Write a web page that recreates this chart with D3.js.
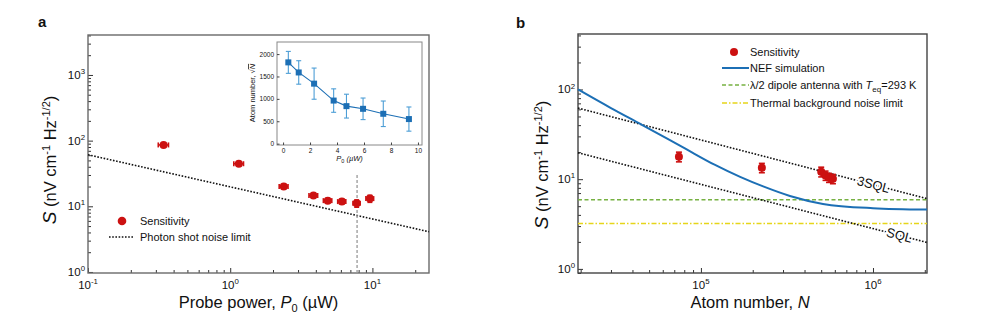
<!DOCTYPE html>
<html><head><meta charset="utf-8">
<script src="https://cdn.jsdelivr.net/npm/d3@7"></script>
<style>body{margin:0;background:#fff} svg text{font-family:Arial,"Liberation Sans",sans-serif;fill:#111}</style>
</head><body><svg id="c" width="981" height="327"></svg>
<script>
// ---------- DATA ----------
// Panel a: sensitivity vs probe power
const powerA = [0.34, 1.15, 2.38, 3.85, 4.85, 6.1, 7.75, 9.6];
const powerAErr = [0.028, 0.09, 0.17, 0.27, 0.33, 0.4, 0.45, 0.6];
const sensA = [86, 44.5, 20, 14.6, 12.2, 11.8, 11.1, 13.1];
const sensAErr = [5.5, 3.2, 1.5, 1.1, 1.0, 1.0, 1.4, 1.6];
const shotP = [0.1, 25];
const shotS = [61, 4.1];
const markerP = 7.8;           // vertical dashed marker
const markerS = [0.965, 30];
// Inset: atom number vs probe power
const insetP = [0.39, 1.16, 2.3, 3.75, 4.7, 5.93, 7.43, 9.33];
const insetN = [1815, 1590, 1340, 962, 838, 778, 667, 549];
const insetErr = [245, 262, 348, 262, 266, 241, 285, 270];
const insetXTicks = [0, 2, 4, 6, 8, 10];
const insetYTicks = [0, 500, 1000, 1500, 2000];
// Panel b: sensitivity vs atom number
const atomN = [7.45e4, 2.26e5, 5.0e5, 5.3e5, 5.55e5, 5.85e5];
const sensB = [17.8, 13.4, 12.1, 11.0, 10.4, 10.1];
const sensBErr = [2.2, 1.6, 1.5, 1.3, 1.2, 1.2];
const atomNErr = [0.03, 0.03, 0.03, 0.03, 0.03, 0.03]; // relative
const nefN = [1.93e4, 3e4, 4.54e4, 8.07e4, 1.2e5, 1.69e5, 2.3e5, 3.29e5, 5.12e5, 1e6, 2.06e6];
const nefS = [100, 62, 40.4, 22, 14.5, 10.6, 8.3, 6.5, 5.3, 4.75, 4.58];
const sqlN = [1.93e4, 2.06e6];
const sqlS = [19.7, 1.97];
const sql3S = [62, 6.07];
const dipoleS = 5.9;
const thermalS = 3.2;

// ---------- HELPERS ----------
const svg = d3.select("#c");
const RED = "#cc1111", BLUE = "#1c6fb5";

function supText(g, x, y, base, exp, size, anchor) {
  const t = g.append("text").attr("x", x).attr("y", y).attr("font-size", size).attr("text-anchor", anchor);
  t.append("tspan").text(base);
  t.append("tspan").attr("dy", -size * 0.42).attr("font-size", size * 0.68).text(exp);
  return t;
}

function logAxes(g, x, y, frameColor) {
  const [x0, x1] = x.range(), [y1, y0] = y.range();
  const xt = x.ticks(), yt = y.ticks();
  const isMajor = v => Math.abs(Math.log10(v) - Math.round(Math.log10(v))) < 1e-6;
  const style = s => { s.select(".domain").remove(); s.selectAll("line").attr("stroke", "#333"); };
  g.append("g").attr("transform", `translate(0,${y1})`)
    .call(d3.axisBottom(x).tickValues(xt.filter(v => !isMajor(v))).tickSize(-3).tickFormat("")).call(style);
  g.append("g").attr("transform", `translate(0,${y1})`)
    .call(d3.axisBottom(x).tickValues(xt.filter(isMajor)).tickSize(-5).tickFormat("")).call(style);
  xt.filter(isMajor).forEach(v => supText(g, x(v), y1 + 16, "10", String(Math.round(Math.log10(v))), 11.5, "middle"));
  g.append("g").attr("transform", `translate(${x0},0)`)
    .call(d3.axisLeft(y).tickValues(yt.filter(v => !isMajor(v))).tickSize(-3).tickFormat("")).call(style);
  g.append("g").attr("transform", `translate(${x0},0)`)
    .call(d3.axisLeft(y).tickValues(yt.filter(isMajor)).tickSize(-5).tickFormat("")).call(style);
  yt.filter(isMajor).forEach(v => supText(g, x0 - 3, y(v) + 4, "10", String(Math.round(Math.log10(v))), 11.5, "end"));
  g.append("rect").attr("x", x0).attr("y", y0).attr("width", x1 - x0).attr("height", y1 - y0)
    .attr("fill", "none").attr("stroke", frameColor).attr("stroke-width", 1.4);
}

function yTitle(g, cx, cy) {
  const t = g.append("text").attr("transform", `translate(${cx},${cy}) rotate(-90)`)
    .attr("text-anchor", "middle").attr("font-size", 16.5);
  t.append("tspan").attr("font-style", "italic").attr("font-size", 19).text("S");
  t.append("tspan").text(" (nV cm");
  t.append("tspan").attr("dy", -6).attr("font-size", 11).text("-1");
  t.append("tspan").attr("dy", 6).text(" Hz");
  t.append("tspan").attr("dy", -6).attr("font-size", 11).text("-1/2");
  t.append("tspan").attr("dy", 6).text(")");
}

function errMarks(g, pts, color, capW) {
  pts.forEach(p => {
    const ln = (a, b, c, d) => g.append("line").attr("x1", a).attr("x2", b).attr("y1", c).attr("y2", d).attr("stroke", color).attr("stroke-width", 1.6);
    ln(p.x, p.x, p.yl, p.yh);
    ln(p.x - capW, p.x + capW, p.yl, p.yl);
    ln(p.x - capW, p.x + capW, p.yh, p.yh);
    if (p.xl !== undefined) {
      ln(p.xl, p.xh, p.y, p.y);
      ln(p.xl, p.xl, p.y - capW, p.y + capW);
      ln(p.xh, p.xh, p.y - capW, p.y + capW);
    }
  });
}

// ---------- PANEL A ----------
const ga = svg.append("g");
const xa = d3.scaleLog().domain([0.1, 25]).range([88, 429]);
const ya = d3.scaleLog().domain([0.965, 4060]).range([273, 35]);
logAxes(ga, xa, ya, "#6a6a6a");
ga.append("text").attr("x", 38).attr("y", 27).attr("font-size", 15).attr("font-weight", "bold").text("a");
yTitle(ga, 56, 160);
{
  const t = ga.append("text").attr("x", 258.5).attr("y", 308).attr("text-anchor", "middle").attr("font-size", 16.5);
  t.append("tspan").text("Probe power, ");
  t.append("tspan").attr("font-style", "italic").text("P");
  t.append("tspan").attr("dy", 4).attr("font-size", 11).text("0");
  t.append("tspan").attr("dy", -4).text(" (\u00b5W)");
}
ga.append("path").datum(shotP.map((p, i) => [p, shotS[i]]))
  .attr("d", d3.line().x(d => xa(d[0])).y(d => ya(d[1])))
  .attr("fill", "none").attr("stroke", "#111").attr("stroke-width", 1.6).attr("stroke-dasharray", "1.6,1.6");
ga.append("line").attr("x1", xa(markerP)).attr("x2", xa(markerP)).attr("y1", ya(markerS[0])).attr("y2", ya(markerS[1]))
  .attr("stroke", "#999").attr("stroke-width", 1.3).attr("stroke-dasharray", "3,2");
errMarks(ga, powerA.map((p, i) => ({
  x: xa(p), y: ya(sensA[i]), yl: ya(sensA[i] - sensAErr[i]), yh: ya(sensA[i] + sensAErr[i]),
  xl: xa(p - powerAErr[i]), xh: xa(p + powerAErr[i])
})), RED, 2.5);
ga.selectAll("circle.pa").data(powerA).enter().append("circle")
  .attr("cx", d => xa(d)).attr("cy", (d, i) => ya(sensA[i])).attr("r", 4).attr("fill", RED);
ga.append("circle").attr("cx", 122).attr("cy", 221).attr("r", 4.3).attr("fill", RED);
ga.append("text").attr("x", 140).attr("y", 225).attr("font-size", 11).text("Sensitivity");
ga.append("line").attr("x1", 109).attr("x2", 134).attr("y1", 237).attr("y2", 237)
  .attr("stroke", "#111").attr("stroke-width", 1.6).attr("stroke-dasharray", "1.6,1.6");
ga.append("text").attr("x", 140).attr("y", 241).attr("font-size", 11).text("Photon shot noise limit");

// ---------- INSET ----------
const gi = svg.append("g");
const xi = d3.scaleLinear().domain([-0.45, 10.3]).range([277, 422]);
const yi = d3.scaleLinear().domain([-30, 2270]).range([145, 42]);
gi.append("rect").attr("x", 277).attr("y", 42).attr("width", 145).attr("height", 103).attr("fill", "#fff")
  .attr("stroke", "#888").attr("stroke-width", 1);
const iStyle = s => { s.select(".domain").remove(); s.selectAll("line").attr("stroke", "#444");
  s.selectAll("text").attr("font-size", 6.5).attr("fill", "#222"); };
gi.append("g").attr("transform", "translate(0,145)")
  .call(d3.axisBottom(xi).tickValues(insetXTicks).tickSize(-2.5).tickPadding(3).tickFormat(d3.format("d"))).call(iStyle);
gi.append("g").attr("transform", "translate(277,0)")
  .call(d3.axisLeft(yi).tickValues(insetYTicks).tickSize(-2.5).tickPadding(3).tickFormat(d3.format("d"))).call(iStyle);
{
  const t = gi.append("text").attr("x", 349.5).attr("y", 161).attr("text-anchor", "middle").attr("font-size", 7.5);
  t.append("tspan").attr("font-style", "italic").text("P");
  t.append("tspan").attr("dy", 2).attr("font-size", 5.5).text("0");
  t.append("tspan").attr("dy", -2).attr("font-style", "italic").text(" (\u00b5W)");
  const u = gi.append("text").attr("transform", "translate(255,93) rotate(-90)").attr("text-anchor", "middle").attr("font-size", 7.5);
  u.append("tspan").text("Atom number, \u221a");
  u.append("tspan").attr("font-style", "italic").attr("text-decoration", "overline").text("N");
}
gi.selectAll("g.eb").data(insetP).enter().append("g").each(function (d, i) {
  const g = d3.select(this), x = xi(d), lo = yi(insetN[i] - insetErr[i]), hi = yi(insetN[i] + insetErr[i]);
  g.append("line").attr("x1", x).attr("x2", x).attr("y1", lo).attr("y2", hi).attr("stroke", "#4d9ed6").attr("stroke-width", 1.1);
  [lo, hi].forEach(yy => g.append("line").attr("x1", x - 2.5).attr("x2", x + 2.5).attr("y1", yy).attr("y2", yy).attr("stroke", "#4d9ed6").attr("stroke-width", 1.1));
});
gi.append("path").datum(insetP.map((p, i) => [p, insetN[i]]))
  .attr("d", d3.line().x(d => xi(d[0])).y(d => yi(d[1])))
  .attr("fill", "none").attr("stroke", BLUE).attr("stroke-width", 1.1);
gi.selectAll("rect.m").data(insetP).enter().append("rect")
  .attr("x", d => xi(d) - 3).attr("y", (d, i) => yi(insetN[i]) - 3).attr("width", 6).attr("height", 6).attr("fill", BLUE);

// ---------- PANEL B ----------
const gb = svg.append("g");
const xb = d3.scaleLog().domain([1.93e4, 2.06e6]).range([578, 927]);
const yb = d3.scaleLog().domain([0.9, 415]).range([273, 34]);
logAxes(gb, xb, yb, "#444");
gb.append("text").attr("x", 516).attr("y", 28).attr("font-size", 15).attr("font-weight", "bold").text("b");
yTitle(gb, 548, 165);
{
  const t = gb.append("text").attr("x", 750).attr("y", 308).attr("text-anchor", "middle").attr("font-size", 16.5);
  t.append("tspan").text("Atom number, ");
  t.append("tspan").attr("font-style", "italic").text("N");
}
const lineB = d3.line().x(d => xb(d[0])).y(d => yb(d[1]));
gb.append("path").datum(sqlN.map(n => [n, dipoleS]))
  .attr("d", lineB).attr("fill", "none").attr("stroke", "#77b142").attr("stroke-width", 1.5).attr("stroke-dasharray", "4,2.5");
gb.append("path").datum(sqlN.map(n => [n, thermalS]))
  .attr("d", lineB).attr("fill", "none").attr("stroke", "#e6d51a").attr("stroke-width", 1.5).attr("stroke-dasharray", "5,2,1.5,2");
gb.append("path").datum(sqlN.map((n, i) => [n, sql3S[i]]))
  .attr("d", lineB).attr("fill", "none").attr("stroke", "#111").attr("stroke-width", 1.6).attr("stroke-dasharray", "1.6,1.6");
gb.append("path").datum(sqlN.map((n, i) => [n, sqlS[i]]))
  .attr("d", lineB).attr("fill", "none").attr("stroke", "#111").attr("stroke-width", 1.6).attr("stroke-dasharray", "1.6,1.6");
gb.append("path").datum(nefN.map((n, i) => [n, nefS[i]]))
  .attr("d", d3.line().x(d => xb(d[0])).y(d => yb(d[1])).curve(d3.curveMonotoneX))
  .attr("fill", "none").attr("stroke", BLUE).attr("stroke-width", 2);
const ang = Math.atan2(yb(sqlS[1]) - yb(sqlS[0]), xb(sqlN[1]) - xb(sqlN[0])) * 180 / Math.PI;
[[9.9e5, sql3S, "3SQL"], [1.4e6, sqlS, "SQL"]].forEach(([n, s, lab]) => {
  const yv = s[0] * Math.pow(n / sqlN[0], Math.log(s[1] / s[0]) / Math.log(sqlN[1] / sqlN[0]));
  gb.append("text").attr("transform", `translate(${xb(n)},${yb(yv) + 4.5}) rotate(${ang})`)
    .attr("text-anchor", "middle").attr("font-size", 13).attr("stroke", "#fff").attr("stroke-width", 4)
    .attr("paint-order", "stroke").text(lab);
});
errMarks(gb, atomN.map((n, i) => ({
  x: xb(n), y: yb(sensB[i]), yl: yb(sensB[i] - sensBErr[i]), yh: yb(sensB[i] + sensBErr[i]),
  xl: xb(n * (1 - atomNErr[i])), xh: xb(n * (1 + atomNErr[i]))
})), RED, 3);
gb.selectAll("circle.pb").data(atomN).enter().append("circle")
  .attr("cx", d => xb(d)).attr("cy", (d, i) => yb(sensB[i])).attr("r", 4).attr("fill", RED);
gb.append("circle").attr("cx", 734).attr("cy", 52).attr("r", 4).attr("fill", RED);
gb.append("text").attr("x", 750).attr("y", 56).attr("font-size", 11).text("Sensitivity");
gb.append("line").attr("x1", 722).attr("x2", 749).attr("y1", 68).attr("y2", 68).attr("stroke", BLUE).attr("stroke-width", 2);
gb.append("text").attr("x", 750).attr("y", 72).attr("font-size", 11).text("NEF simulation");
gb.append("line").attr("x1", 722).attr("x2", 749).attr("y1", 85).attr("y2", 85).attr("stroke", "#77b142").attr("stroke-width", 1.5).attr("stroke-dasharray", "4,2.5");
{
  const t = gb.append("text").attr("x", 750).attr("y", 89).attr("font-size", 11);
  t.append("tspan").text("\u03bb/2 dipole antenna with ");
  t.append("tspan").attr("font-style", "italic").text("T");
  t.append("tspan").attr("dy", 3).attr("font-size", 8).text("eq");
  t.append("tspan").attr("dy", -3).text("=293 K");
}
gb.append("line").attr("x1", 722).attr("x2", 749).attr("y1", 103).attr("y2", 103).attr("stroke", "#e6d51a").attr("stroke-width", 1.5).attr("stroke-dasharray", "5,2,1.5,2");
gb.append("text").attr("x", 750).attr("y", 107).attr("font-size", 11).text("Thermal background noise limit");
</script></body></html>
